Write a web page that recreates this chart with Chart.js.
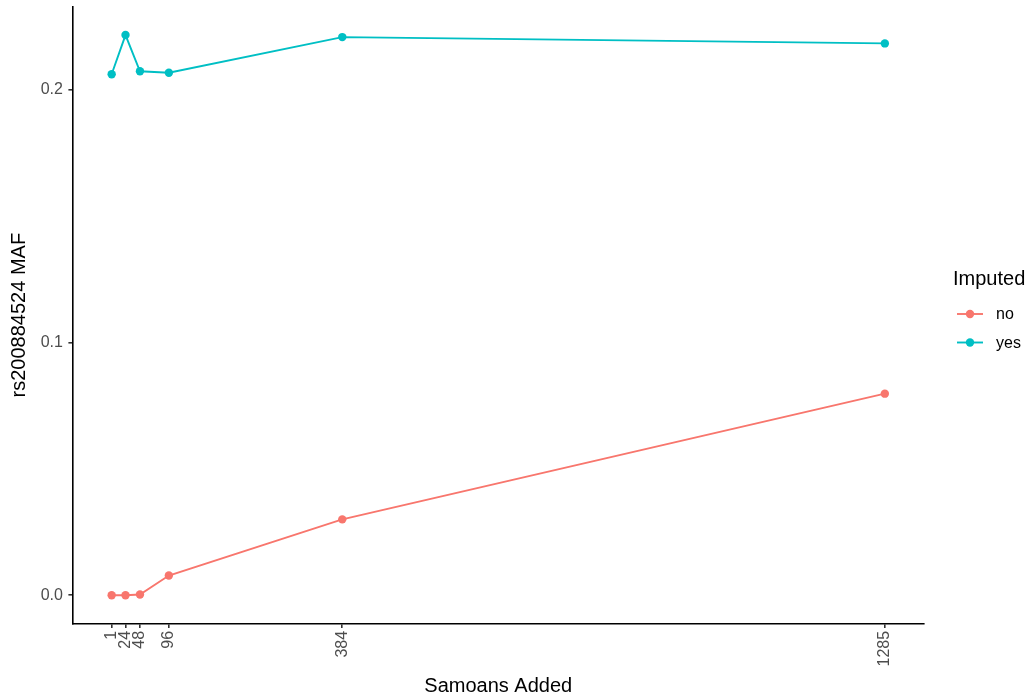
<!DOCTYPE html>
<html>
<head>
<meta charset="utf-8">
<script src="https://cdn.jsdelivr.net/npm/chart.js@4.4.1/dist/chart.umd.min.js"></script>
<style>
  html, body { margin: 0; padding: 0; background: #ffffff; }
  #wrap { width: 1032px; height: 700px; }
</style>
</head>
<body>
<div id="wrap"><canvas id="maf" width="1032" height="700"></canvas></div>
<script>
// Number of Samoans added to the reference panel
const samoansAdded = [1, 24, 48, 96, 384, 1285];
// Minor allele frequency of rs200884524, directly genotyped vs imputed
const mafNotImputed = [0, 0, 0.0003, 0.0078, 0.0300, 0.0797];
const mafImputed = [0.2060, 0.2215, 0.2072, 0.2066, 0.2207, 0.2182];
const yTicks = [0, 0.1, 0.2];
const seriesNames = ['no', 'yes'];
const seriesColors = ['#F8766D', '#00BFC4'];
const legendTitle = 'Imputed';

const FONT = '"Liberation Sans", Arial, Helvetica, sans-serif';
const TITLE_SIZE = 20;
const TEXT_SIZE = 16;

const toPoints = (ys) => samoansAdded.map((x, i) => ({ x: x, y: ys[i] }));

const makeSeries = (i, ys) => ({
  label: seriesNames[i],
  data: toPoints(ys),
  borderColor: seriesColors[i],
  backgroundColor: seriesColors[i],
  pointBackgroundColor: seriesColors[i],
  pointBorderColor: seriesColors[i],
  borderWidth: 1.9,
  pointRadius: 4.2,
  pointBorderWidth: 0,
  pointHoverRadius: 4.2,
  tension: 0,
  fill: false
});

// ggplot-style legend: title with line+point keys
const legendPlugin = {
  id: 'imputedLegend',
  afterDraw(chart) {
    const ctx = chart.ctx;
    ctx.save();
    ctx.textBaseline = 'middle';
    ctx.textAlign = 'left';
    ctx.fillStyle = '#000000';
    ctx.font = TITLE_SIZE + 'px ' + FONT;
    ctx.fillText(legendTitle, 953, 279);
    chart.data.datasets.forEach((ds, i) => {
      const y = 314 + i * 28.5;
      ctx.strokeStyle = ds.borderColor;
      ctx.lineWidth = 1.9;
      ctx.beginPath();
      ctx.moveTo(957, y);
      ctx.lineTo(983, y);
      ctx.stroke();
      ctx.fillStyle = ds.borderColor;
      ctx.beginPath();
      ctx.arc(970, y, 4.2, 0, Math.PI * 2);
      ctx.fill();
      ctx.fillStyle = '#000000';
      ctx.font = TEXT_SIZE + 'px ' + FONT;
      ctx.fillText(ds.label, 996, y + 1);
    });
    ctx.restore();
  }
};

new Chart(document.getElementById('maf'), {
  type: 'line',
  data: {
    datasets: [makeSeries(0, mafNotImputed), makeSeries(1, mafImputed)]
  },
  options: {
    responsive: false,
    animation: false,
    devicePixelRatio: 1,
    layout: { padding: { top: 7, right: 108.5, bottom: 0, left: 0 } },
    plugins: {
      legend: { display: false },
      tooltip: { enabled: false }
    },
    scales: {
      x: {
        type: 'linear',
        min: -63.2,
        max: 1349.2,
        afterBuildTicks: (scale) => { scale.ticks = samoansAdded.map(v => ({ value: v })); },
        afterFit: (scale) => {
          scale.height = 76.7;
          scale.paddingLeft = 0;
          scale.paddingRight = 0;
        },
        border: { display: true, color: '#000000', width: 1.6 },
        grid: { drawOnChartArea: false, drawTicks: true, tickLength: 4.6, color: '#333333', lineWidth: 1.6 },
        ticks: {
          autoSkip: false,
          minRotation: 90,
          maxRotation: 90,
          padding: 3,
          color: '#4D4D4D',
          font: { family: FONT, size: TEXT_SIZE },
          callback: (v) => String(v)
        },
        title: {
          display: true,
          text: 'Samoans Added',
          color: '#000000',
          font: { family: FONT, size: TITLE_SIZE },
          padding: { top: 0, bottom: 2 }
        }
      },
      y: {
        type: 'linear',
        min: -0.0111,
        max: 0.2326,
        afterBuildTicks: (scale) => { scale.ticks = yTicks.map(v => ({ value: v })); },
        afterFit: (scale) => {
          scale.width = 73;
          scale.paddingTop = 0;
          scale.paddingBottom = 0;
        },
        border: { display: true, color: '#000000', width: 1.6 },
        grid: { drawOnChartArea: false, drawTicks: true, tickLength: 4.6, color: '#333333', lineWidth: 1.6 },
        ticks: {
          padding: 5.5,
          color: '#4D4D4D',
          font: { family: FONT, size: TEXT_SIZE },
          callback: (v) => v.toFixed(1)
        },
        title: {
          display: true,
          text: 'rs200884524 MAF',
          color: '#000000',
          font: { family: FONT, size: TITLE_SIZE },
          padding: { top: 7, bottom: 0 }
        }
      }
    }
  },
  plugins: [legendPlugin]
});
</script>
</body>
</html>
